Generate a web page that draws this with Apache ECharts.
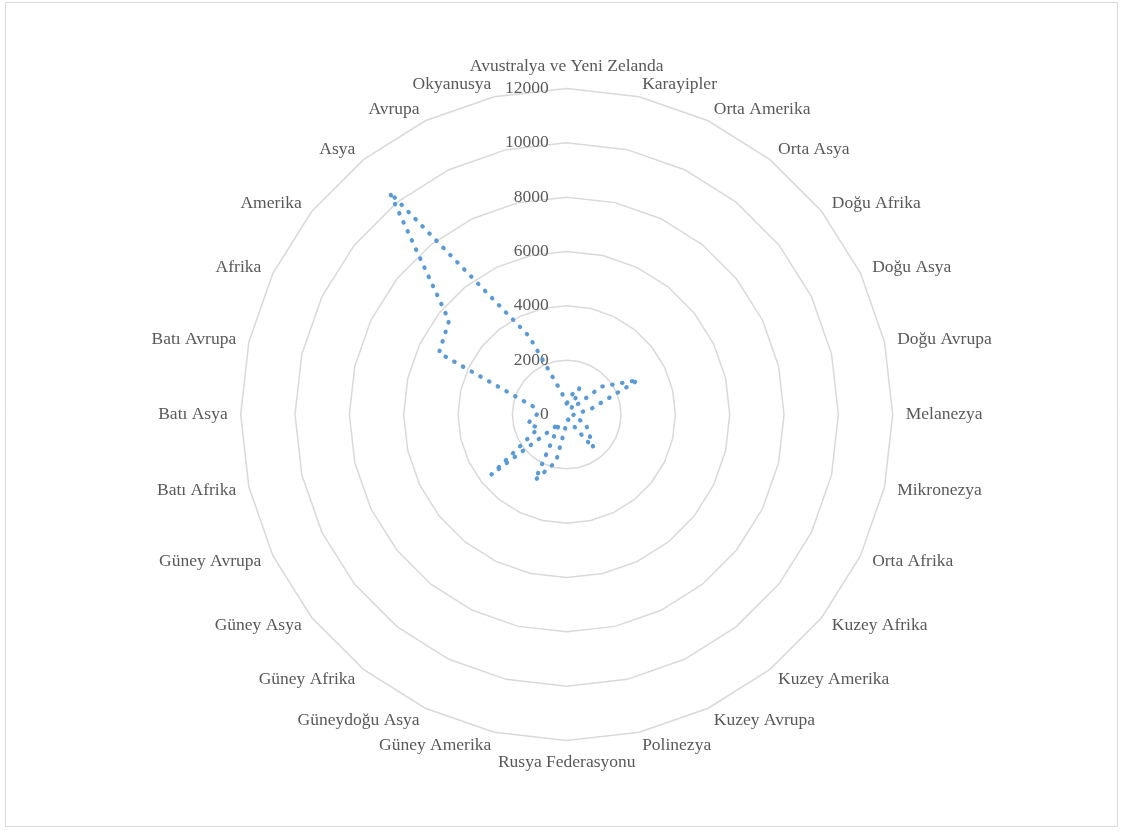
<!DOCTYPE html>
<html>
<head>
<meta charset="utf-8">
<script src="https://cdn.jsdelivr.net/npm/echarts@6/dist/echarts.min.js"></script>
<style>
  html, body { margin: 0; padding: 0; background: #ffffff; }
  #chart { width: 1123px; height: 831px; }
</style>
</head>
<body>
<div id="chart"></div>
<script>
// Regions, listed clockwise starting from the top of the radar
const categories = [
  'Avustralya ve Yeni Zelanda', 'Karayipler', 'Orta Amerika', 'Orta Asya',
  'Doğu Afrika', 'Doğu Asya', 'Doğu Avrupa', 'Melanezya', 'Mikronezya',
  'Orta Afrika', 'Kuzey Afrika', 'Kuzey Amerika', 'Kuzey Avrupa', 'Polinezya',
  'Rusya Federasyonu', 'Güney Amerika', 'Güneydoğu Asya', 'Güney Afrika',
  'Güney Asya', 'Güney Avrupa', 'Batı Afrika', 'Batı Asya', 'Batı Avrupa',
  'Afrika', 'Amerika', 'Asya', 'Avrupa', 'Okyanusya'
];

// Value per region, same order as categories
const values = [
  400, 720, 1080, 270,
  1650, 2920, 920, 260, 230,
  770, 1030, 1580, 320, 180,
  300, 1790, 2680, 420,
  3550, 1150, 1470, 1100, 1220,
  5220, 5540, 10450, 3200, 825
];

// Radial scale
const axisMin = 0;
const axisMax = 12000;
const axisStep = 2000;

// ECharts lays indicators out counter-clockwise; reorder so they run clockwise
const order = [0];
for (let i = categories.length - 1; i >= 1; i--) order.push(i);

const labelFont = 'Liberation Serif, Times New Roman, serif';
const textColor = '#595959';

const indicators = order.map(function (idx, k) {
  const ind = { name: categories[idx], min: axisMin, max: axisMax };
  if (k === 0) {
    // scale labels only along the top spoke
    ind.axisLabel = {
      show: true,
      color: textColor,
      fontFamily: labelFont,
      fontSize: 17.5,
      margin: 18,
      showMinLabel: true,
      showMaxLabel: true,
      formatter: function (v) { return String(v); }
    };
  }
  return ind;
});

const chart = echarts.init(document.getElementById('chart'), null, { renderer: 'canvas' });

chart.setOption({
  backgroundColor: '#ffffff',
  animation: false,
  graphic: [{
    type: 'rect',
    shape: { x: 5.5, y: 2.5, width: 1112, height: 824 },
    style: { fill: null, stroke: '#D9D9D9', lineWidth: 1 },
    silent: true
  }],
  radar: {
    center: [566.7, 414.5],
    radius: 326,
    startAngle: 90,
    shape: 'polygon',
    splitNumber: (axisMax - axisMin) / axisStep,
    nameGap: 13,
    axisName: {
      color: textColor,
      fontFamily: labelFont,
      fontSize: 17.5
    },
    splitLine: { lineStyle: { color: '#D9D9D9', width: 1.5 } },
    splitArea: { show: false },
    axisLine: { show: false },
    axisTick: { show: false },
    axisLabel: { show: false },
    indicator: indicators
  },
  series: [{
    type: 'radar',
    symbol: 'none',
    silent: true,
    lineStyle: {
      color: '#5B9BD5',
      width: 4.2,
      type: [0.5, 9.5],
      cap: 'round'
    },
    data: [{ value: order.map(function (idx) { return values[idx]; }) }]
  }]
});
</script>
</body>
</html>
